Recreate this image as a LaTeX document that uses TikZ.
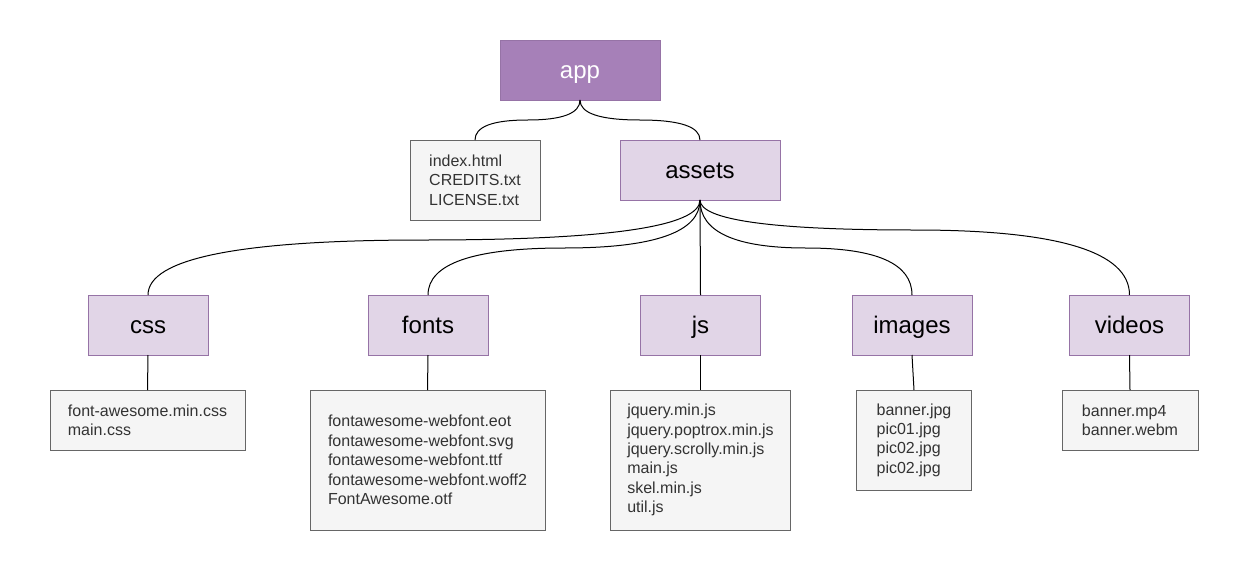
\documentclass[tikz,border=0pt]{standalone}
\usepackage{fontspec}
\setmainfont{Liberation Sans}
\usetikzlibrary{calc}
\definecolor{appfill}{HTML}{A680B8}
\definecolor{purpstroke}{HTML}{9673A6}
\definecolor{folderfill}{HTML}{E1D5E7}
\definecolor{listfill}{HTML}{F5F5F5}
\definecolor{liststroke}{HTML}{666666}
\definecolor{listtext}{HTML}{333333}
\tikzset{
  box/.style={draw, line width=1pt, inner sep=0pt, outer sep=0pt, rectangle},
  rootbox/.style={box, fill=appfill, draw=purpstroke, text=white,
    font=\fontsize{24}{28}\selectfont, text height=20pt, text depth=4pt,
    minimum width=160pt, minimum height=60pt},
  folderbox/.style={box, fill=folderfill, draw=purpstroke, text=black,
    font=\fontsize{24}{28}\selectfont, text height=20pt, text depth=4pt,
    minimum width=120pt, minimum height=60pt},
  listbox/.style={box, fill=listfill, draw=liststroke, text=listtext,
    font=\fontsize{16}{19.4}\selectfont, align=left},
  link/.style={line width=1pt, black}
}
% #1 source, #2 target, #3 y of the horizontal middle
\newcommand\curvelink[3]{%
  \draw[link] let \p1=(#1.south), \p2=(#2.north),
    \n1={#3}, \n2={(\x1+\x2)/2} in
    (\p1) .. controls (\x1,{\y1+2/3*(\n1-\y1)}) and ({\n2+2/3*(\x1-\n2)},\n1)
    .. (\n2,\n1) .. controls ({\n2+2/3*(\x2-\n2)},\n1) and (\x2,{\y2+2/3*(\n1-\y2)})
    .. (\p2);}
\begin{document}
\begin{tikzpicture}[x=1pt,y=1pt]
\useasboundingbox (0,0) rectangle (1251,-581);
% folders
\node[rootbox] (app) at (580,-70) {app};
\node[listbox, minimum width=130pt, minimum height=80pt] (rootlist) at (475,-180)
  {index.html\\CREDITS.txt\\LICENSE.txt};
\node[folderbox, minimum width=160pt] (assets) at (700,-170) {assets};
\node[folderbox] (css) at (148,-325) {css};
\node[folderbox] (fonts) at (428,-325) {fonts};
\node[folderbox] (js) at (700.5,-325) {js};
\node[folderbox] (images) at (912,-325) {images};
\node[folderbox] (videos) at (1129.5,-325) {videos};
% lists
\node[listbox, minimum width=195pt, minimum height=60pt] (csslist) at (147.5,-420)
  {font-awesome.min.css\\main.css};
\node[listbox, minimum width=235pt, minimum height=140pt] (fontslist) at (427.5,-460)
  {fontawesome-webfont.eot\\fontawesome-webfont.svg\\fontawesome-webfont.ttf\\fontawesome-webfont.woff2\\FontAwesome.otf};
\node[listbox, minimum width=180pt, minimum height=140pt] (jslist) at (700.5,-460)
  {jquery.min.js\\jquery.poptrox.min.js\\jquery.scrolly.min.js\\main.js\\skel.min.js\\util.js};
\node[listbox, minimum width=115pt, minimum height=100pt] (imageslist) at (914,-440)
  {banner.jpg\\pic01.jpg\\pic02.jpg\\pic02.jpg};
\node[listbox, minimum width=136pt, minimum height=60pt] (videoslist) at (1130,-420)
  {banner.mp4\\banner.webm};
% connectors
\curvelink{app}{rootlist}{-120}
\curvelink{app}{assets}{-120}
\curvelink{assets}{css}{-240}
\curvelink{assets}{fonts}{-248}
\draw[link] (assets.south) -- (js.north);
\curvelink{assets}{images}{-248}
\curvelink{assets}{videos}{-230}
\draw[link] (css.south) -- (csslist.north);
\draw[link] (fonts.south) -- (fontslist.north);
\draw[link] (js.south) -- (jslist.north);
\draw[link] (images.south) -- (imageslist.north);
\draw[link] (videos.south) -- (videoslist.north);
\end{tikzpicture}
\end{document}
